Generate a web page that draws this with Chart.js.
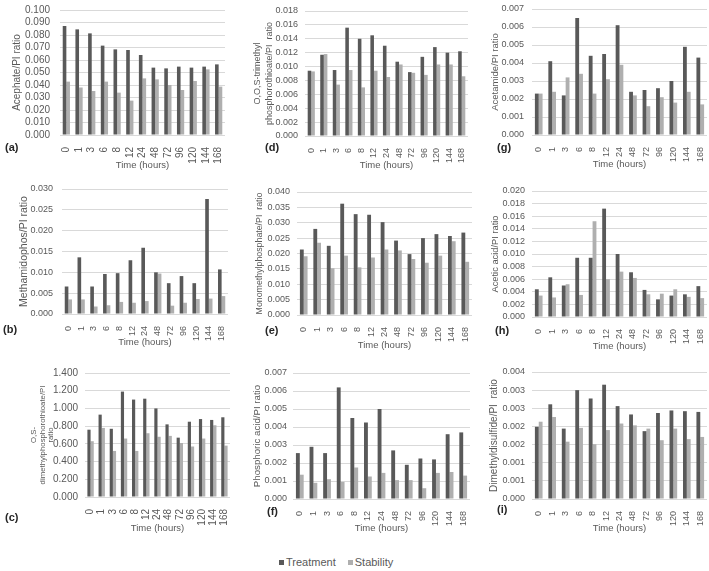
<!DOCTYPE html>
<html>
<head>
<meta charset="utf-8">
<script src="https://cdn.jsdelivr.net/npm/chart.js@4.4.1/dist/chart.umd.min.js"></script>
<style>
  html, body { margin: 0; padding: 0; background: #fff; }
  #wrap { position: relative; width: 709px; height: 571px; overflow: hidden; font-family: "Liberation Sans", Arial, sans-serif; }
  .tag { position: absolute; font-weight: bold; font-size: 11px; color: #262626; line-height: 12px; }
  #legend { position: absolute; left: 279px; top: 556px; font-size: 11px; color: #595959; white-space: nowrap; }
  #legend span.sq { display: inline-block; width: 5px; height: 5px; margin-right: 2px; vertical-align: 1px; }
  #legend span.gap { display: inline-block; width: 12px; }
</style>
</head>
<body>
<div id="wrap">
  <div id="legend"><span class="sq" style="background:#595959"></span>Treatment<span class="gap"></span><span class="sq" style="background:#afafaf"></span>Stability</div>
</div>
<script>
const hours = ["0", "1", "3", "6", "8", "12", "24", "48", "72", "96", "120", "144", "168"];

// (a) Acephate
const acephateTreatment = [0.0872, 0.0845, 0.0813, 0.0715, 0.0685, 0.0680, 0.0640, 0.0539, 0.0533, 0.0547, 0.0539, 0.0547, 0.0565];
const acephateStability = [0.0427, 0.0380, 0.0352, 0.0427, 0.0339, 0.0275, 0.0453, 0.0445, 0.0400, 0.0360, 0.0432, 0.0525, 0.0387];
const acephateTicks = ["0.000", "0.010", "0.020", "0.030", "0.040", "0.050", "0.060", "0.070", "0.080", "0.090", "0.100"];

// (b) Methamidophos
const methamidophosTreatment = [0.0066, 0.0136, 0.0066, 0.0096, 0.0098, 0.0129, 0.0159, 0.0100, 0.0074, 0.0091, 0.0074, 0.0276, 0.0107];
const methamidophosStability = [0.0035, 0.0035, 0.0018, 0.0021, 0.0029, 0.0027, 0.0031, 0.0097, 0.0020, 0.0027, 0.0036, 0.0037, 0.0043];
const methamidophosTicks = ["0.000", "0.005", "0.010", "0.015", "0.020", "0.025", "0.030"];

// (c) O,S-dimethylphosphorothioate
const osDimethylTreatment = [0.76, 0.93, 0.77, 1.19, 1.10, 1.11, 1.00, 0.82, 0.67, 0.85, 0.88, 0.87, 0.90];
const osDimethylStability = [0.63, 0.78, 0.52, 0.66, 0.52, 0.72, 0.68, 0.69, 0.61, 0.57, 0.66, 0.81, 0.58];
const osDimethylTicks = ["0.000", "0.200", "0.400", "0.600", "0.800", "1.000", "1.200", "1.400"];

// (d) O,O,S-trimethyl phosphorothioate
const oosTrimethylTreatment = [0.0094, 0.0117, 0.0095, 0.0156, 0.0140, 0.0145, 0.0130, 0.0107, 0.0092, 0.0114, 0.0128, 0.0120, 0.0122];
const oosTrimethylStability = [0.0093, 0.0118, 0.0074, 0.0095, 0.0070, 0.0094, 0.0085, 0.0103, 0.0091, 0.0088, 0.0103, 0.0103, 0.0086];
const oosTrimethylTicks = ["0.000", "0.002", "0.004", "0.006", "0.008", "0.010", "0.012", "0.014", "0.016", "0.018"];

// (e) Monomethylphosphate
const monomethylTreatment = [0.0213, 0.0280, 0.0225, 0.0362, 0.0328, 0.0326, 0.0302, 0.0242, 0.0198, 0.0250, 0.0263, 0.0257, 0.0268];
const monomethylStability = [0.0191, 0.0235, 0.0152, 0.0193, 0.0155, 0.0187, 0.0213, 0.0210, 0.0182, 0.0170, 0.0193, 0.0240, 0.0173];
const monomethylTicks = ["0.000", "0.005", "0.010", "0.015", "0.020", "0.025", "0.030", "0.035", "0.040"];

// (f) Phosphoric acid
const phosphoricTreatment = [0.00255, 0.0029, 0.00255, 0.0062, 0.0045, 0.00425, 0.0050, 0.0027, 0.0019, 0.00225, 0.0022, 0.0036, 0.0037];
const phosphoricStability = [0.00135, 0.0009, 0.0011, 0.00095, 0.00175, 0.00125, 0.00145, 0.00105, 0.00105, 0.0006, 0.00145, 0.0015, 0.0013];
const phosphoricTicks = ["0.000", "0.001", "0.002", "0.003", "0.004", "0.005", "0.006", "0.007"];

// (g) Acetamide
const acetamideTreatment = [0.0023, 0.0041, 0.0022, 0.0065, 0.0044, 0.0045, 0.0061, 0.0024, 0.0025, 0.0026, 0.0030, 0.0049, 0.0043];
const acetamideStability = [0.0023, 0.0024, 0.0032, 0.0034, 0.0023, 0.0031, 0.0039, 0.0022, 0.0016, 0.0021, 0.0018, 0.0024, 0.0017];
const acetamideTicks = ["0.000", "0.001", "0.002", "0.003", "0.004", "0.005", "0.006", "0.007"];

// (h) Acetic acid
const aceticTreatment = [0.0044, 0.0063, 0.0050, 0.0094, 0.0094, 0.0172, 0.0100, 0.0071, 0.0043, 0.0028, 0.0034, 0.0036, 0.0049];
const aceticStability = [0.0034, 0.0031, 0.0052, 0.0035, 0.0152, 0.0060, 0.0072, 0.0062, 0.0036, 0.0037, 0.0044, 0.0032, 0.0030];
const aceticTicks = ["0.000", "0.002", "0.004", "0.006", "0.008", "0.010", "0.012", "0.014", "0.016", "0.018", "0.020"];

// (i) Dimethyldisulfide
const dmdsTreatment = [0.00199, 0.00261, 0.00194, 0.00300, 0.00277, 0.00315, 0.00256, 0.00233, 0.00187, 0.00237, 0.00244, 0.00242, 0.00240];
const dmdsStability = [0.00213, 0.00226, 0.00158, 0.00196, 0.00151, 0.00190, 0.00208, 0.00203, 0.00194, 0.00162, 0.00194, 0.00165, 0.00171];
const dmdsTicks = ["0.000", "0.001", "0.001", "0.002", "0.002", "0.003", "0.003", "0.004"];

const FONT = "'Liberation Sans', Arial, sans-serif";
const TXT = "#595959";
const GRID = "#d9d9d9";
const DARK = "#595959";
const LIGHT = "#afafaf";
const X_TITLE_SIZE = 9.5;

const panels = [
  { tag: "(a)", tagPos: [5, 141], title: "Acephate/PI ratio", treat: acephateTreatment, stab: acephateStability, ticks: acephateTicks, max: 0.1, step: 0.01,
    box: [0, 0, 238], plot: [60, 10, 225, 135], xTitleY: 165, titleX: 17, titleSize: 10, tickSize: 10, tickPad: 10 },
  { tag: "(d)", tagPos: [265, 141], title: ["O,O,S-trimethyl", "phosphorothioate/PI  ratio"], treat: oosTrimethylTreatment, stab: oosTrimethylStability, ticks: oosTrimethylTicks, max: 0.018, step: 0.002,
    box: [238, 0, 244], plot: [305, 11, 468, 136], xTitleY: 165, titleX: 258, titleSize: 9, titleLH: 1.3, tickSize: 9, tickPad: 7 },
  { tag: "(g)", tagPos: [497, 141], title: "Acetamide/PI ratio", treat: acetamideTreatment, stab: acetamideStability, ticks: acetamideTicks, max: 0.007, step: 0.001,
    box: [474, 0, 235], plot: [532, 9, 707, 135], xTitleY: 164, titleX: 495, titleSize: 9.5, tickSize: 9, tickPad: 8 },
  { tag: "(b)", tagPos: [3, 323], title: "Methamidophos/PI ratio", treat: methamidophosTreatment, stab: methamidophosStability, ticks: methamidophosTicks, max: 0.03, step: 0.005,
    box: [0, 172, 238], plot: [62, 189, 228, 314], xTitleY: 342, titleX: 24, titleSize: 10.5, tickSize: 9, tickPad: 9 },
  { tag: "(e)", tagPos: [265, 324], title: "Monomethylphosphate/PI  ratio", treat: monomethylTreatment, stab: monomethylStability, ticks: monomethylTicks, max: 0.04, step: 0.005,
    box: [238, 172, 244], plot: [297, 192, 472, 315], xTitleY: 345, titleX: 260, titleSize: 8.8, tickSize: 9, tickPad: 7 },
  { tag: "(h)", tagPos: [495, 324], title: "Acetic acid/PI ratio", treat: aceticTreatment, stab: aceticStability, ticks: aceticTicks, max: 0.02, step: 0.002,
    box: [474, 172, 235], plot: [532, 191, 707, 317], xTitleY: 346, titleX: 495, titleSize: 9.3, tickSize: 9, tickPad: 7 },
  { tag: "(c)", tagPos: [5, 511], title: ["O,S-", "dimethylphosphorothioate/PI", "ratio"], treat: osDimethylTreatment, stab: osDimethylStability, ticks: osDimethylTicks, max: 1.4, step: 0.2,
    box: [0, 350, 238], plot: [85, 373, 230, 497], xTitleY: 528, titleX: 34, titleSize: 7.8, titleLH: 1.1, tickSize: 10, tickPad: 7 },
  { tag: "(f)", tagPos: [267, 505], title: "Phosphoric acid/PI ratio", treat: phosphoricTreatment, stab: phosphoricStability, ticks: phosphoricTicks, max: 0.007, step: 0.001,
    box: [238, 350, 244], plot: [293, 373, 470, 499], xTitleY: 528, titleX: 257, titleSize: 9.7, tickSize: 9, tickPad: 6 },
  { tag: "(i)", tagPos: [497, 503], title: "Dimethyldisulfide/PI  ratio", treat: dmdsTreatment, stab: dmdsStability, ticks: dmdsTicks, max: 0.0035, step: 0.0005,
    box: [474, 350, 235], plot: [532, 372, 707, 499], xTitleY: 528, titleX: 494, titleSize: 10, tickSize: 9, tickPad: 7 },
];

const wrap = document.getElementById("wrap");

const drawPanel = (p) => {
  const [left, top, w] = p.box;
  const [px0, py0, px1, py1] = p.plot;
  const h = Math.round(p.xTitleY + X_TITLE_SIZE * 1.2 / 2 - top);
  const canvas = document.createElement("canvas");
  canvas.width = w;
  canvas.height = h;
  canvas.style.cssText = `position:absolute;left:${left}px;top:${top}px;width:${w}px;height:${h}px;`;
  wrap.appendChild(canvas);

  const tag = document.createElement("div");
  tag.className = "tag";
  tag.textContent = p.tag;
  tag.style.left = p.tagPos[0] + "px";
  tag.style.top = p.tagPos[1] + "px";
  wrap.appendChild(tag);

  const lh = p.titleSize * (p.titleLH || 1.2);
  const padLeft = p.titleX - left - lh / 2;

  new Chart(canvas, {
    type: "bar",
    data: {
      labels: hours,
      datasets: [
        { label: "Treatment", data: p.treat, backgroundColor: DARK },
        { label: "Stability", data: p.stab, backgroundColor: LIGHT },
      ],
    },
    options: {
      responsive: false,
      animation: false,
      devicePixelRatio: 1,
      layout: { padding: { left: padLeft, top: py0 - top, right: left + w - px1, bottom: 0 } },
      plugins: { legend: { display: false }, tooltip: { enabled: false } },
      datasets: { bar: { barPercentage: 1, categoryPercentage: 0.57 } },
      scales: {
        x: {
          grid: { display: false },
          border: { display: false },
          ticks: { autoSkip: false, minRotation: 90, maxRotation: 90, padding: 4, color: TXT, font: { family: FONT, size: p.tickSize } },
          title: { display: true, text: "Time (hours)", color: TXT, padding: 0, font: { family: FONT, size: X_TITLE_SIZE } },
          afterFit: (s) => {
            s.height = top + h - py1;
            s.paddingLeft = 0;
            s.paddingRight = 0;
          },
        },
        y: {
          min: 0,
          max: p.max,
          grid: { color: GRID, drawTicks: false },
          border: { display: false },
          ticks: {
            stepSize: p.step,
            autoSkip: false,
            padding: p.tickPad,
            color: TXT,
            font: { family: FONT, size: p.tickSize },
            callback: (v, i) => p.ticks[i],
          },
          title: { display: true, text: p.title, color: TXT, padding: 0, font: { family: FONT, size: p.titleSize, lineHeight: p.titleLH || 1.2 } },
          afterFit: (s) => {
            s.width = px0 - left - padLeft;
            s.paddingTop = 0;
            s.paddingBottom = 0;
          },
        },
      },
    },
  });
};

panels.forEach(drawPanel);
</script>
</body>
</html>
